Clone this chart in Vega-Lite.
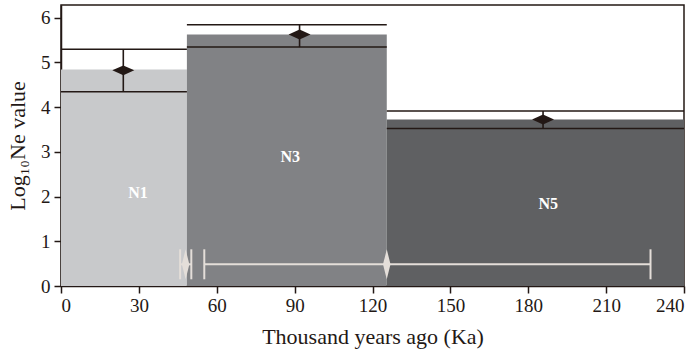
{
  "$schema": "https://vega.github.io/schema/vega-lite/v6.json",
  "width": 623,
  "height": 281,
  "autosize": {"type": "none"},
  "padding": {"left": 61, "top": 5, "right": 17, "bottom": 73},
  "background": "white",
  "config": {
    "view": {"stroke": "#231815", "strokeWidth": 1.5},
    "axis": {
      "labelFont": "Liberation Serif",
      "titleFont": "Liberation Serif",
      "labelFontSize": 19,
      "titleFontSize": 22,
      "titleFontWeight": "normal",
      "labelColor": "#231815",
      "titleColor": "#231815",
      "domainColor": "#231815",
      "domainWidth": 1.5,
      "tickColor": "#231815",
      "tickWidth": 1.5,
      "tickSize": 7,
      "grid": false
    }
  },
  "datasets": {
    "bars": [
      {"pop": "N1", "start": 0, "end": 48.5, "value": 4.84},
      {"pop": "N3", "start": 48.5, "end": 125.5, "value": 5.62},
      {"pop": "N5", "start": 125.5, "end": 240, "value": 3.72}
    ],
    "ci": [
      {"pop": "N1", "start": 0, "end": 48.5, "time": 24.0, "lo": 4.34, "hi": 5.29, "mid": 4.82},
      {"pop": "N3", "start": 48.5, "end": 125.5, "time": 91.9, "lo": 5.34, "hi": 5.84, "mid": 5.62},
      {"pop": "N5", "start": 125.5, "end": 240, "time": 185.7, "lo": 3.52, "hi": 3.91, "mid": 3.72}
    ],
    "times": [
      {"event": "A", "center": 125.5, "lo": 55.2, "hi": 227.1, "level": 0.485},
      {"event": "B", "center": 48.0, "lo": 45.9, "hi": 50.2, "level": 0.485}
    ],
    "labels": [
      {"pop": "N1", "x": 29.7, "y": 2.08},
      {"pop": "N3", "x": 88.3, "y": 2.88},
      {"pop": "N5", "x": 187.7, "y": 1.83}
    ]
  },
  "layer": [
    {
      "data": {"name": "bars"},
      "mark": {"type": "rect"},
      "encoding": {
        "x": {"field": "start", "type": "quantitative", "scale": {"domain": [0, 240], "nice": false},
              "axis": {"values": [0, 30, 60, 90, 120, 150, 180, 210, 240], "title": "Thousand years ago (Ka)", "labelPadding": 3, "titlePadding": 11}},
        "x2": {"field": "end"},
        "y": {"field": "value", "type": "quantitative", "scale": {"domain": [0, 6.28], "nice": false, "zero": true},
              "axis": {"values": [0, 1, 2, 3, 4, 5, 6], "title": "Log₁₀Ne value", "labelPadding": 4, "titlePadding": 11}},
        "y2": {"datum": 0},
        "color": {"field": "pop", "type": "nominal", "scale": {"domain": ["N1", "N3", "N5"], "range": ["#c8c9cb", "#818285", "#5f6062"]}, "legend": null}
      }
    },
    {
      "data": {"name": "ci"},
      "mark": {"type": "rule", "color": "#231815", "strokeWidth": 1.6},
      "encoding": {
        "x": {"field": "start", "type": "quantitative"},
        "x2": {"field": "end"},
        "y": {"field": "hi", "type": "quantitative"}
      }
    },
    {
      "data": {"name": "ci"},
      "mark": {"type": "rule", "color": "#231815", "strokeWidth": 1.6},
      "encoding": {
        "x": {"field": "start", "type": "quantitative"},
        "x2": {"field": "end"},
        "y": {"field": "lo", "type": "quantitative"}
      }
    },
    {
      "data": {"name": "ci"},
      "mark": {"type": "rule", "color": "#231815", "strokeWidth": 1.6},
      "encoding": {
        "x": {"field": "time", "type": "quantitative"},
        "y": {"field": "lo", "type": "quantitative"},
        "y2": {"field": "hi"}
      }
    },
    {
      "data": {"name": "ci"},
      "mark": {"type": "point", "shape": "M-1,0L0,-0.45L1,0L0,0.45Z", "filled": true, "opacity": 1, "color": "#231815", "size": 484},
      "encoding": {
        "x": {"field": "time", "type": "quantitative"},
        "y": {"field": "mid", "type": "quantitative"}
      }
    },
    {
      "data": {"name": "times"},
      "mark": {"type": "rule", "color": "#e4ded9", "strokeWidth": 2},
      "encoding": {
        "x": {"field": "lo", "type": "quantitative"},
        "x2": {"field": "hi"},
        "y": {"field": "level", "type": "quantitative"}
      }
    },
    {
      "data": {"name": "times"},
      "transform": [{"fold": ["lo", "hi"], "as": ["end", "pos"]}],
      "mark": {"type": "tick", "orient": "vertical", "color": "#e4ded9", "thickness": 2, "size": 30, "opacity": 1},
      "encoding": {
        "x": {"field": "pos", "type": "quantitative"},
        "y": {"field": "level", "type": "quantitative"}
      }
    },
    {
      "data": {"name": "times"},
      "mark": {"type": "point", "shape": "M0,-1L0.25,0L0,1L-0.25,0Z", "filled": true, "opacity": 1, "color": "#e4ded9", "size": 900},
      "encoding": {
        "x": {"field": "center", "type": "quantitative"},
        "y": {"field": "level", "type": "quantitative"}
      }
    },
    {
      "data": {"name": "labels"},
      "mark": {"type": "text", "font": "Liberation Serif", "fontWeight": "bold", "fontSize": 16, "color": "white", "align": "center", "baseline": "middle"},
      "encoding": {
        "x": {"field": "x", "type": "quantitative"},
        "y": {"field": "y", "type": "quantitative"},
        "text": {"field": "pop", "type": "nominal"}
      }
    }
  ]
}
